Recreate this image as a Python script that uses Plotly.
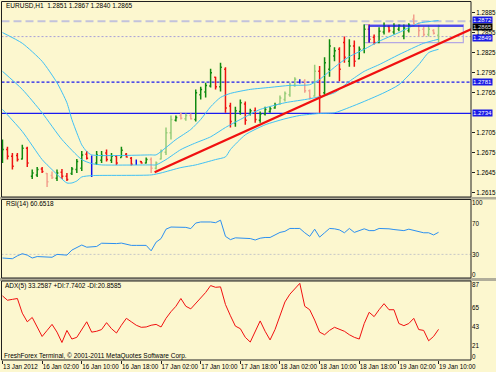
import plotly.graph_objects as go

# ---------------- data ----------------
bar_idx = list(range(89))
opens = [1.2668,1.2680,1.2670,1.2671,1.2666,1.2682,1.2640,1.2642,1.2651,1.2644,
         1.2641,1.2637,1.2646,1.2640,1.2644,1.2650,1.2652,1.2673,1.2666,1.2660,
         1.2664,1.2675,1.2664,1.2670,1.2668,1.2673,1.2667,1.2661,1.2662,1.2660,
         1.2665,1.2652,1.2666,1.2676,1.2705,1.2724,1.2731,1.2726,1.2731,1.2725,
         1.2762,1.2766,1.2775,1.2788,1.2774,1.2800,1.2745,1.2720,1.2737,1.2748,
         1.2733,1.2738,1.2724,1.2733,1.2737,1.2742,1.2748,1.2755,1.2762,1.2776,
         1.2782,1.2782,1.2768,1.2760,1.2797,1.2765,1.2800,1.2820,1.2830,1.2840,
         1.2812,1.2835,1.2816,1.2830,1.2860,1.2848,1.2840,1.2856,1.2864,1.2856,
         1.2860,1.2850,1.2858,1.2875,1.2868,1.2860,1.2852,1.2858,1.2851]
highs = [1.2695,1.2684,1.2675,1.2675,1.2687,1.2684,1.2650,1.2654,1.2654,1.2645,
         1.2647,1.2650,1.2651,1.2645,1.2654,1.2666,1.2678,1.2678,1.2671,1.2678,
         1.2678,1.2680,1.2675,1.2672,1.2684,1.2675,1.2669,1.2665,1.2663,1.2668,
         1.2668,1.2662,1.2680,1.2713,1.2731,1.2731,1.2735,1.2734,1.2734,1.2770,
         1.2774,1.2780,1.2801,1.2789,1.2810,1.2803,1.2750,1.2744,1.2755,1.2752,
         1.2741,1.2743,1.2737,1.2744,1.2744,1.2750,1.2761,1.2767,1.2780,1.2788,
         1.2785,1.2785,1.2770,1.2807,1.2805,1.2818,1.2845,1.2833,1.2833,1.2849,
         1.2845,1.2843,1.2834,1.2867,1.2867,1.2852,1.2863,1.2870,1.2866,1.2869,
         1.2867,1.2867,1.2869,1.2882,1.2870,1.2864,1.2866,1.2860,1.2867]
lows = [1.2660,1.2665,1.2650,1.2662,1.2665,1.2654,1.2636,1.2639,1.2645,1.2624,
        1.2636,1.2633,1.2636,1.2633,1.2642,1.2645,1.2648,1.2665,1.2639,1.2657,
        1.2660,1.2662,1.2660,1.2657,1.2668,1.2668,1.2656,1.2657,1.2659,1.2659,
        1.2645,1.2650,1.2665,1.2672,1.2695,1.2722,1.2725,1.2723,1.2725,1.2722,
        1.2755,1.2758,1.2773,1.2770,1.2767,1.2735,1.2713,1.2714,1.2732,1.2717,
        1.2731,1.2720,1.2720,1.2731,1.2735,1.2741,1.2747,1.2752,1.2759,1.2774,
        1.2779,1.2765,1.2755,1.2759,1.2735,1.2762,1.2789,1.2812,1.2782,1.2810,
        1.2804,1.2804,1.2815,1.2824,1.2840,1.2837,1.2839,1.2852,1.2855,1.2852,
        1.2857,1.2845,1.2855,1.2864,1.2849,1.2849,1.2849,1.2852,1.2840]
closes = [1.2680,1.2670,1.2655,1.2665,1.2682,1.2660,1.2645,1.2650,1.2647,1.2632,
          1.2638,1.2645,1.2640,1.2635,1.2651,1.2662,1.2672,1.2667,1.2660,1.2672,
          1.2671,1.2665,1.2670,1.2660,1.2679,1.2669,1.2658,1.2661,1.2660,1.2665,
          1.2652,1.2660,1.2677,1.2705,1.2725,1.2728,1.2727,1.2731,1.2726,1.2765,
          1.2770,1.2776,1.2795,1.2774,1.2803,1.2742,1.2722,1.2738,1.2750,1.2724,
          1.2738,1.2725,1.2733,1.2740,1.2741,1.2747,1.2757,1.2764,1.2776,1.2785,
          1.2781,1.2768,1.2758,1.2797,1.2760,1.2810,1.2835,1.2828,1.2800,1.2818,
          1.2835,1.2812,1.2830,1.2860,1.2845,1.2840,1.2857,1.2865,1.2858,1.2865,
          1.2866,1.2862,1.2866,1.2868,1.2858,1.2852,1.2860,1.2854,1.2865]
bar_kind = ['g','r','r','r','g','r','g','g','r','lr',
            'lr','g','r','r','g','g','g','r','b','g',
            'g','r','g','r','g','r','r','b','r','g',
            'lr','lg','lg','lg','lg','g','lr','lg','lr','g',
            'g','g','g','r','g','r','r','g','g','r',
            'g','r','g','g','g','g','lg','lg','lg','lg',
            'b','lr','lr','lg','r','g','g','g','r','r',
            'g','r','g','g','r','r','g','g','r','g',
            'g','g','g','lr','lr','lr','lg','lr','lg']

# Bollinger-type bands (bar index, price) read at key points
band_up_idx = [0,4,8,11,13,14,15,16,17,18,30,31,33,35,38,40,42,44,46,50,54,58,62,64,66,68,70,73,76,80,84,88]
band_up_val = [1.2855,1.2839,1.2812,1.2780,1.2750,1.2725,1.2705,1.2687,1.2677,1.2672,1.2672,1.2672,1.2683,1.2695,1.2710,1.2725,
               1.2744,1.2758,1.2764,1.2770,1.2773,1.2776,1.2777,1.2785,1.2797,1.2809,1.2819,1.2830,1.2842,1.2855,1.2869,1.2873]
band_mid_idx = [0,4,8,12,16,18,20,30,31,33,36,39,42,45,48,52,57,62,67,70,73,76,80,85,88]
band_mid_val = [1.2797,1.2770,1.2735,1.2695,1.2665,1.2659,1.2657,1.2657,1.2657,1.2665,1.2680,1.2690,1.2699,1.2713,1.2725,
                1.2740,1.2750,1.2756,1.2765,1.2782,1.2797,1.2807,1.2822,1.2839,1.2845]
band_lo_idx = [0,4,8,10,13,14,15,16,18,30,32,36,39,43,45,46,49,53,57,60,64,67,70,73,77,80,84,86,88]
band_lo_val = [1.2740,1.2707,1.2665,1.2650,1.2630,1.2630,1.2633,1.2639,1.2641,1.2642,1.2645,1.2653,1.2657,1.2665,1.2669,
               1.2680,1.2702,1.2717,1.2726,1.2731,1.2734,1.2735,1.2743,1.2752,1.2765,1.2777,1.2807,1.2825,1.2830]

trend_idx = [30.7, 94.55]
trend_val = [1.2646, 1.2860]

level_prices = [1.2872, 1.2849, 1.2781, 1.2734]
level_labels = ["1.2872", "1.2849", "1.2781", "1.2734"]
level_label_shift = [1.5, -1, 0, 0]
last_price = 1.2865

box_idx = [73, 93]
box_val = [1.2840, 1.2867]
blue_path_idx = [74, 74, 93]
blue_path_val = [1.2840, 1.2865, 1.2865]

price_ticks = [1.2615,1.2645,1.2675,1.2705,1.2765,1.2795,1.2825,1.2855,1.2885]
price_tick_text = ["1.2615","1.2645","1.2675","1.2705","1.2765","1.2795","1.2825","1.2855","1.2885"]

rsi = [25,24,24,28,31,29,25,27,26.5,26,26,30,29,29,36,39,43,40,40,41,
       45.5,45,45,45,45.7,44.5,42.5,42.5,42.5,42.5,35,47,52,65,68,67.5,68,67.5,65.8,73.5,
       75,75.5,75,74,77.5,55,50.5,53,52.5,52.5,52,50,52.5,53.5,53.5,57,60.5,62,66,66,
       66,60,55,65,54,60,66,65.5,64,60,66,60.5,62.5,65.5,63,63,66,66,65.5,64.5,
       63.5,63,65,63,61,60,60,57,60.65]
rsi_tick_pos = [1.4, 29, 73.1, 102]
rsi_tick_text = ["0", "30", "70", "100"]

adx = [72,67,68,69,52,42,47,35,25,32,39,30,18,32,22,24,33,42,30,31,
       33,41,34,29,38,46,42,38,35.6,36,38,39,36,46,53.7,60,69,60,57,63,
       70,76,84,82,82.5,62,49,37,34,24,18.5,30,43,31,21,33,50,65,74,80,
       86.6,60,56,44,30,27,32,35.6,33,31,27,24,22,40,53,48,56,63,56,56,
       40,37.5,40,46,33,32,20,25,33.26]
adx_tick_pos = [1.2, 13.9, 36, 58, 84.7]
adx_tick_text = ["0", "21", "43", "65", "87"]

time_tick_idx = [0,8,16,24,32,40,48,56,64,72,80,88]
time_tick_text = ["13 Jan 2012","16 Jan 02:00","16 Jan 10:00","16 Jan 18:00","17 Jan 02:00","17 Jan 10:00",
                  "17 Jan 18:00","18 Jan 02:00","18 Jan 10:00","18 Jan 18:00","19 Jan 02:00","19 Jan 10:00"]

# ---------------- styling ----------------
W, H = 496, 372
BG = "#fcf7cf"
FONT = "Liberation Sans, Arial, sans-serif"
kind_color = {'g': '#0f8a0f', 'r': '#ee1111', 'lg': '#96cc78', 'lr': '#f2a08e', 'b': '#1010ee'}

def fx(px):
    return px / W

def fy(py):
    return 1 - py / H

fig = go.Figure()

# bands
for bx, bv in [(band_up_idx, band_up_val), (band_mid_idx, band_mid_val), (band_lo_idx, band_lo_val)]:
    fig.add_trace(go.Scatter(x=bx, y=bv, mode='lines', line=dict(color='#40c0f4', width=1, shape='spline', smoothing=0.6),
                             xaxis='x', yaxis='y', hoverinfo='skip'))

# OHLC bars grouped by colour
for k, col in kind_color.items():
    sel = [i for i in bar_idx if bar_kind[i] == k]
    if not sel:
        continue
    gaps = [b - a for a, b in zip(sel[:-1], sel[1:])]
    mg = min(gaps) if gaps else 1
    fig.add_trace(go.Ohlc(x=sel, open=[opens[i] for i in sel], high=[highs[i] for i in sel],
                          low=[lows[i] for i in sel], close=[closes[i] for i in sel],
                          increasing=dict(line=dict(color=col, width=1.5)),
                          decreasing=dict(line=dict(color=col, width=1.5)),
                          tickwidth=min(0.5, 0.28 / mg), xaxis='x', yaxis='y', hoverinfo='skip'))

# trend line
fig.add_trace(go.Scatter(x=trend_idx, y=trend_val, mode='lines', line=dict(color='#f01010', width=2.4),
                         xaxis='x', yaxis='y', hoverinfo='skip'))

# blue drawn path
fig.add_trace(go.Scatter(x=blue_path_idx, y=blue_path_val, mode='lines', line=dict(color='#1a1aee', width=1.5),
                         xaxis='x', yaxis='y', hoverinfo='skip'))

# RSI
fig.add_trace(go.Scatter(x=bar_idx, y=rsi, mode='lines', line=dict(color='#2b8ff0', width=1),
                         xaxis='x', yaxis='y2', hoverinfo='skip'))
# ADX
fig.add_trace(go.Scatter(x=bar_idx, y=adx, mode='lines', line=dict(color='#f01010', width=1),
                         xaxis='x', yaxis='y3', hoverinfo='skip'))

shapes = []
# horizontal levels
lvl_style = [dict(color='#c2c2dc', width=2, dash='8px,4px'),
             dict(color='#a8a0d8', width=1, dash='2px,2px'),
             dict(color='#1a1af0', width=1.2, dash='3px,2px'),
             dict(color='#1a1af0', width=1.2, dash='solid')]
for p, st in zip(level_prices, lvl_style):
    shapes.append(dict(type='line', xref='x domain', yref='y', x0=0, x1=1, y0=p, y1=p, line=st, layer='below'))
# lavender rectangle
shapes.append(dict(type='rect', xref='x', yref='y', x0=box_idx[0], x1=box_idx[1], y0=box_val[0], y1=box_val[1],
                   line=dict(color='#b4a8e4', width=1.2), layer='below'))
# RSI 30 level
shapes.append(dict(type='line', xref='x domain', yref='y2', x0=0, x1=1, y0=30, y1=30,
                   line=dict(color='#c8c8c8', width=1, dash='2px,2px'), layer='below'))
# panel separators
for a, b in [(197, 199.5), (278, 281)]:
    shapes.append(dict(type='rect', xref='paper', yref='paper', x0=0, x1=1, y0=fy(b), y1=fy(a),
                       fillcolor='#b0ad9a', line=dict(width=0)))
# panel borders
for a, b in [(1.5, 197), (199.5, 278), (281, 360)]:
    shapes.append(dict(type='rect', xref='paper', yref='paper', x0=fx(1.5), x1=fx(471), y0=fy(b), y1=fy(a),
                       line=dict(color='#202020', width=1)))

annotations = []
for p, t, s in zip(level_prices, level_labels, level_label_shift):
    annotations.append(dict(x=fx(472), xref='paper', y=p, yref='y', text=t, showarrow=False, xanchor='left',
                            yanchor='middle', bgcolor='#1a1ae6', font=dict(color='white', size=6, family=FONT),
                            borderpad=0, yshift=s))
annotations.append(dict(x=fx(472), xref='paper', y=last_price, yref='y', text="1.2865", showarrow=False,
                        xanchor='left', yanchor='middle', bgcolor='#000000',
                        font=dict(color='#e0e0e0', size=6, family=FONT), borderpad=0, yshift=-1))

texts = [("EURUSD,H1  1.2851 1.2867 1.2840 1.2865", 4, 6),
         ("RSI(14) 60.6518", 4, 204),
         ("ADX(5) 33.2587 +DI:7.7402 -DI:20.8585", 3, 286),
         ("FreshForex Terminal, \u00a9 2001-2011 MetaQuotes Software Corp.", 2, 355.5)]
for t, x, y in texts:
    annotations.append(dict(x=fx(x), xref='paper', y=fy(y), yref='paper', text=t, showarrow=False,
                            xanchor='left', yanchor='middle', font=dict(color='black', size=6.5, family=FONT)))

fig.update_layout(
    width=W, height=H, margin=dict(l=0, r=0, t=0, b=0),
    paper_bgcolor=BG, plot_bgcolor=BG, showlegend=False,
    font=dict(family=FONT, size=6.5, color='black'),
    shapes=shapes, annotations=annotations,
    xaxis=dict(domain=[fx(1.5), fx(471)], range=[-0.2, 94.55], anchor='y3', showgrid=False, zeroline=False,
               tickvals=time_tick_idx, ticktext=time_tick_text, ticks='outside', ticklen=3, tickcolor='#202020',
               ticklabelposition='outside right', tickangle=0, tickfont=dict(size=6.3),
               rangeslider=dict(visible=False), showline=False, fixedrange=True, automargin=False),
    yaxis=dict(domain=[fy(197), fy(1.5)], range=[1.2609, 1.29015], side='right', anchor='x', showgrid=False,
               zeroline=False, tickvals=price_ticks, ticktext=price_tick_text, ticks='outside', ticklen=3,
               tickcolor='#202020', tickfont=dict(size=6.3), automargin=False),
    yaxis2=dict(domain=[fy(278), fy(199.5)], range=[-2.76, 106.2], side='right', anchor='x', showgrid=False,
                zeroline=False, tickvals=rsi_tick_pos, ticktext=rsi_tick_text, ticks='', tickfont=dict(size=6.3),
                automargin=False),
    yaxis3=dict(domain=[fy(360), fy(281)], range=[-2.3, 89.3], side='right', anchor='x', showgrid=False,
                zeroline=False, tickvals=adx_tick_pos, ticktext=adx_tick_text, ticks='', tickfont=dict(size=6.3),
                automargin=False),
)

fig.write_html("out.html", config={'displayModeBar': False},
               post_script="document.body.style.margin='0';document.body.style.background='%s';" % BG)
